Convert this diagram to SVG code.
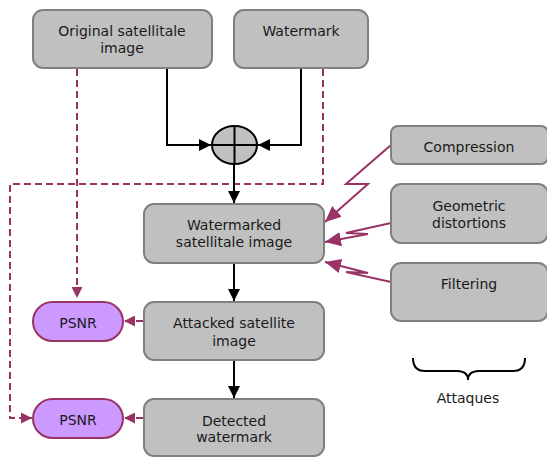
<svg xmlns="http://www.w3.org/2000/svg" width="547" height="457" viewBox="0 0 547 457">
<defs>
<style>
.box{fill:#c0c0c0;stroke:#808080;stroke-width:2}
.psnr{fill:#cc99ff;stroke:#993366;stroke-width:2}
.t{font-family:"DejaVu Sans",Verdana,sans-serif;font-size:14px;fill:#1a1a1a;text-anchor:middle}
.blk{fill:none;stroke:#000;stroke-width:2}
.dash{fill:none;stroke:#993366;stroke-width:2;stroke-dasharray:7,4}
.pur{fill:none;stroke:#993366;stroke-width:2}
</style>
<marker id="ab" markerUnits="userSpaceOnUse" markerWidth="12" markerHeight="12" viewBox="0 0 10 10" refX="10" refY="5" orient="auto"><path d="M0,0 L10,5 L0,10 Z" fill="#000"/></marker>
<marker id="ap" markerUnits="userSpaceOnUse" markerWidth="11" markerHeight="11" viewBox="0 0 10 10" refX="10" refY="5" orient="auto"><path d="M0,0 L10,5 L0,10 Z" fill="#993366"/></marker>
<marker id="al" markerUnits="userSpaceOnUse" markerWidth="16" markerHeight="16" viewBox="0 0 10 10" refX="10" refY="5" orient="auto"><path d="M0,0.5 L10,5 L0,9.5 Z" fill="#993366"/></marker>
</defs>

<g id="connectors">
<polyline class="dash" points="77,69 77,298" marker-end="url(#ap)"/>
<polyline class="dash" points="323,69 323,184 10,184 10,418 32,418" marker-end="url(#ap)"/>
<line class="dash" x1="143" y1="321" x2="124" y2="321" marker-end="url(#ap)"/>
<line class="dash" x1="143" y1="418" x2="124" y2="418" marker-end="url(#ap)"/>
<polyline class="blk" points="167,69 167,145 211,145" marker-end="url(#ab)"/>
<polyline class="blk" points="301,69 301,145 258,145" marker-end="url(#ab)"/>
<line class="blk" x1="234" y1="164" x2="234" y2="203" marker-end="url(#ab)"/>
<line class="blk" x1="234" y1="264" x2="234" y2="301" marker-end="url(#ab)"/>
<line class="blk" x1="234" y1="361" x2="234" y2="398" marker-end="url(#ab)"/>
<polyline class="pur" points="391,145 346,184 368,184 325,222" marker-end="url(#al)"/>
<polyline class="pur" points="391,223 346,233 368,234 325,242" marker-end="url(#al)"/>
<polyline class="pur" points="391,282 346,272 368,273 325,262" marker-end="url(#al)"/>
</g>

<g id="original"><rect class="box" x="33" y="10" width="179" height="58" rx="10"/><text class="t" x="122" y="36">Original satellitale</text><text class="t" x="122" y="53">image</text></g>
<g id="watermark"><rect class="box" x="234" y="10" width="134" height="58" rx="10"/><text class="t" x="301" y="36">Watermark</text></g>
<g id="adder"><ellipse cx="234.5" cy="145" rx="22.5" ry="19" fill="#c0c0c0" stroke="#000" stroke-width="2"/><line x1="234.5" y1="126" x2="234.5" y2="164" stroke="#000" stroke-width="2"/><line x1="212" y1="145" x2="257" y2="145" stroke="#000" stroke-width="2"/></g>
<g id="watermarked"><rect class="box" x="144" y="204" width="180" height="59" rx="10"/><text class="t" x="234" y="230">Watermarked</text><text class="t" x="234" y="247">satellitale image</text></g>
<g id="attacked"><rect class="box" x="144" y="302" width="180" height="58" rx="10"/><text class="t" x="234" y="328">Attacked satellite</text><text class="t" x="234" y="346">image</text></g>
<g id="detected"><rect class="box" x="144" y="399" width="180" height="57" rx="10"/><text class="t" x="234" y="426">Detected</text><text class="t" x="234" y="442">watermark</text></g>
<g id="psnr1"><rect class="psnr" x="33" y="302" width="90" height="39" rx="19.5"/><text class="t" x="78" y="328">PSNR</text></g>
<g id="psnr2"><rect class="psnr" x="33" y="399" width="90" height="39" rx="19.5"/><text class="t" x="78" y="425">PSNR</text></g>
<g id="compression"><rect class="box" x="391" y="126" width="157" height="38" rx="7"/><text class="t" x="469" y="152">Compression</text></g>
<g id="geometric"><rect class="box" x="391" y="184" width="157" height="59" rx="10"/><text class="t" x="469" y="211">Geometric</text><text class="t" x="469" y="228">distortions</text></g>
<g id="filtering"><rect class="box" x="391" y="263" width="157" height="58" rx="10"/><text class="t" x="469" y="289">Filtering</text></g>
<g id="attaques"><path d="M413,358 Q413,371 425,371 L457,371 Q468,371 468,380 Q468,371 479,371 L513,371 Q525,371 525,358" fill="none" stroke="#000" stroke-width="2"/><text class="t" x="468" y="403">Attaques</text></g>
</svg>
